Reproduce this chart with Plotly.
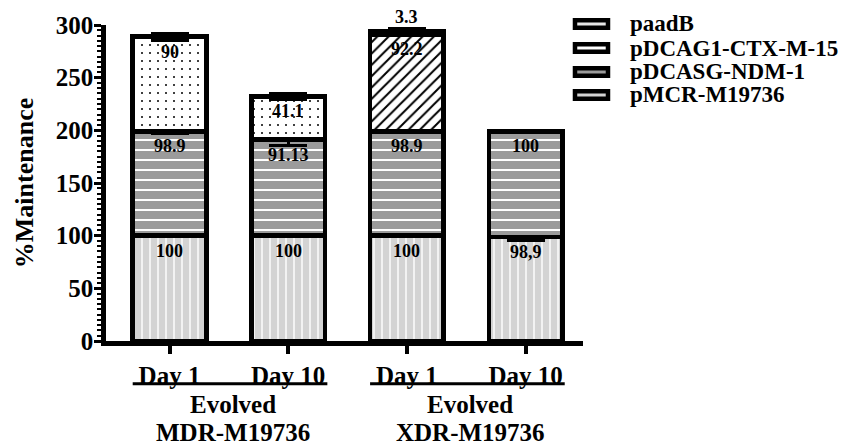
import plotly.graph_objects as go

# ---- data -------------------------------------------------------------
x_pos = [0, 1, 2, 3]
day_labels = ["Day 1", "Day 10", "Day 1", "Day 10"]
group_line1 = ["Evolved", "Evolved"]
group_line2 = ["MDR-M19736", "XDR-M19736"]
group_members = [[0, 1], [2, 3]]

# stacked segments, bottom to top
pmcr = [100, 100, 100, 98.9]
pmcr_err = [0, 0, 0, 3.5]
pmcr_text = ["100", "100", "100", "98,9"]

pdcasg = [98.9, 91.13, 98.9, 100]
pdcasg_err = [2, 5.5, 1, 0]
pdcasg_text = ["98.9", "91.13", "98.9", "100"]

paadb = [None, None, 92.2, None]
paadb_err = [None, None, 1, None]
paadb_text = ["", "", "92.2", ""]

pdcag1 = [90, 41.1, 3.3, None]
pdcag1_err = [3.5, 3, 2.5, None]
pdcag1_text = ["90", "41.1", "3.3", ""]

# legend order, top to bottom
legend_names = ["paadB", "pDCAG1-CTX-M-15", "pDCASG-NDM-1", "pMCR-M19736"]

# ---- styling ----------------------------------------------------------
FONT = "Liberation Serif"


def bold(size):
    return dict(family=FONT, size=size, color="black", weight="bold")


styles = {
    "pMCR-M19736": dict(shape="|", bg="#d3d3d3", fg="white", size=8, solidity=0.18),
    "pDCASG-NDM-1": dict(shape="-", bg="#9b9b9b", fg="white", size=10, solidity=0.2),
    "paadB": dict(shape="/", bg="white", fg="black", size=8, solidity=0.25),
    "pDCAG1-CTX-M-15": dict(shape=".", bg="white", fg="black", size=8, solidity=0.05),
}
legend_fill = {
    "paadB": "#e6e6e6",
    "pDCAG1-CTX-M-15": "#ffffff",
    "pDCASG-NDM-1": "#9b9b9b",
    "pMCR-M19736": "#d3d3d3",
}

series = [
    ("pMCR-M19736", pmcr, pmcr_err, pmcr_text),
    ("pDCASG-NDM-1", pdcasg, pdcasg_err, pdcasg_text),
    ("paadB", paadb, paadb_err, paadb_text),
    ("pDCAG1-CTX-M-15", pdcag1, pdcag1_err, pdcag1_text),
]

fig = go.Figure()
base = [0.0] * len(x_pos)
for name, vals, errs, texts in series:
    st = styles[name]
    fig.add_trace(go.Bar(
        x=x_pos, y=vals, name=name,
        marker=dict(
            color=st["bg"],
            line=dict(color="black", width=4.5),
            pattern=dict(shape=st["shape"], fillmode="replace",
                         bgcolor=st["bg"], fgcolor=st["fg"],
                         size=st["size"], solidity=st["solidity"]),
        ),
        error_y=dict(type="data", array=errs, symmetric=True,
                     color="black", thickness=3, width=19),
        showlegend=False,
    ))
    # value labels just under each segment's top edge
    for i, (v, t) in enumerate(zip(vals, texts)):
        if v is None:
            continue
        top = base[i] + v
        if v < 10:
            # segment too thin for its label: print it above the stack
            fig.add_annotation(x=x_pos[i], y=top, text=t, showarrow=False,
                               yanchor="middle", yshift=14, font=bold(18))
        else:
            fig.add_annotation(x=x_pos[i], y=top, text=t, showarrow=False,
                               yanchor="middle", yshift=-15, font=bold(18))
        base[i] = top

fig.update_layout(
    barmode="stack",
    bargap=0.38,
    width=848, height=446,
    margin=dict(l=106, r=265, t=25, b=105),
    plot_bgcolor="white", paper_bgcolor="white",
    font=bold(24),
    showlegend=False,
)

fig.update_xaxes(
    range=[-0.535, 3.484],
    tickvals=x_pos, ticktext=day_labels,
    tickfont=bold(25),
    showline=True, linewidth=4.5, linecolor="black",
    ticks="outside", ticklen=8, tickwidth=4, tickcolor="black",
    showgrid=False, zeroline=False,
)
fig.update_yaxes(
    range=[0, 300],
    tickmode="linear", tick0=0, dtick=50,
    tickfont=bold(25),
    ticklabelstandoff=-4,
    showline=True, linewidth=4.5, linecolor="black",
    ticks="outside", ticklen=7, tickwidth=3, tickcolor="black",
    minor=dict(tickmode="linear", tick0=0, dtick=5, ticks="outside",
               ticklen=4, tickwidth=2, tickcolor="black"),
    showgrid=False, zeroline=False,
    title=dict(text="%Maintenance", standoff=16, font=bold(26)),
)

# group underlines and group captions
for members, l1, l2 in zip(group_members, group_line1, group_line2):
    x0 = x_pos[members[0]] - 0.31
    x1 = x_pos[members[-1]] + 0.33
    fig.add_shape(type="line", xref="x", yref="paper", x0=x0, x1=x1,
                  y0=-0.135, y1=-0.135, line=dict(color="black", width=3))
    xc = (x_pos[members[0]] + x_pos[members[-1]]) / 2
    fig.add_annotation(x=xc, xref="x", y=-0.2025, yref="paper", text=l1,
                       showarrow=False, xshift=4, yanchor="middle", font=bold(25))
    fig.add_annotation(x=xc, xref="x", y=-0.291, yref="paper", text=l2,
                       showarrow=False, xshift=4, yanchor="middle", font=bold(25))

# legend: small framed swatches with names
leg_y = [1.0032, 0.9272, 0.8513, 0.7785]
for name, yc in zip(legend_names, leg_y):
    fig.add_shape(type="rect", xref="paper", yref="paper",
                  x0=0.9832, x1=1.0524, y0=yc - 0.012, y1=yc + 0.012,
                  fillcolor=legend_fill[name], line=dict(color="black", width=4.5))
    fig.add_annotation(x=1.0943, xref="paper", y=yc, yref="paper", text=name,
                       showarrow=False, xanchor="left", yanchor="middle", font=bold(23))

fig.write_html("out.html")
